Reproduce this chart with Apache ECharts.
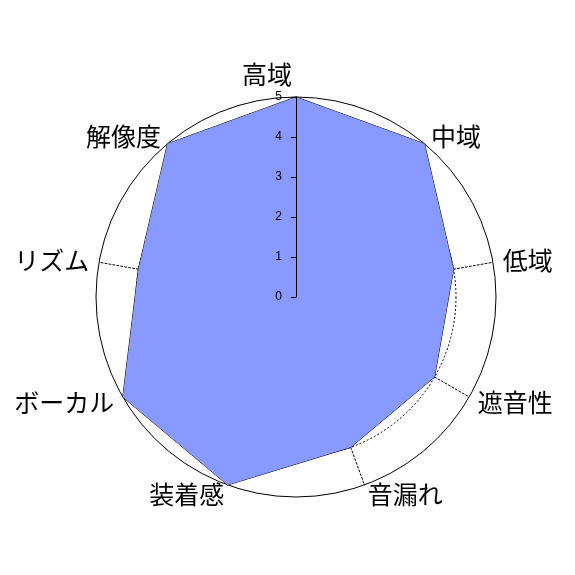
<!DOCTYPE html>
<html>
<head>
<meta charset="utf-8">
<script src="https://cdn.jsdelivr.net/npm/echarts@6/dist/echarts.min.js"></script>
<style>
html,body{margin:0;padding:0;background:#fff;}
#c{width:575px;height:575px;}
</style>
</head>
<body>
<div id="c"></div>
<script>
// categories listed clockwise from the top
var categories = ['高域', '中域', '低域', '遮音性', '音漏れ', '装着感', 'ボーカル', 'リズム', '解像度'];
var values = [5, 5, 4, 4, 4, 5, 5, 4, 5];
var maxValue = 5;

// ECharts radar runs counter-clockwise: keep the first, reverse the rest
function clockwise(arr) { return [arr[0]].concat(arr.slice(1).reverse()); }
var cats = clockwise(categories);
var vals = clockwise(values);

var chart = echarts.init(document.getElementById('c'));
var indicators = cats.map(function (n) { return { name: n, max: maxValue, min: 0 }; });
var nameFont = '"Noto Sans CJK JP", sans-serif';

chart.setOption({
  backgroundColor: '#ffffff',
  animation: false,
  radar: [
    {
      center: [296, 297],
      radius: 200,
      startAngle: 90,
      shape: 'circle',
      splitNumber: 1,
      indicator: indicators,
      axisName: {
        show: true,
        color: '#000',
        fontFamily: nameFont,
        fontSize: 25,
        formatter: function (name) {
          return name === '高域' ? '{top|' + name + '}' : name;
        },
        rich: {
          top: { fontFamily: nameFont, fontSize: 25, color: '#000', padding: [0, 58, 0, 0] }
        }
      },
      nameGap: 10,
      axisLine: { show: false },
      axisTick: { show: false },
      axisLabel: { show: false },
      splitArea: { show: false },
      splitLine: { show: true, lineStyle: { color: '#000', width: 1, type: 'solid' } }
    },
    {
      center: [296, 297],
      radius: 200,
      startAngle: 90,
      shape: 'circle',
      splitNumber: 5,
      indicator: indicators,
      axisName: { show: false },
      axisLine: { show: true, lineStyle: { color: '#000', width: 1, type: [2, 2] } },
      axisTick: { show: false },
      axisLabel: { show: false },
      splitArea: { show: false },
      splitLine: { show: true, lineStyle: { color: ['transparent', '#000', '#000', '#000', '#000', 'transparent'], width: 1, type: [2, 2] } }
    }
  ],
  grid: { left: 296, top: 97, height: 200, width: 20, containLabel: false },
  xAxis: { type: 'value', show: false, min: 0, max: 1 },
  yAxis: {
    type: 'value',
    min: 0,
    max: maxValue,
    interval: 1,
    position: 'left',
    z: 10,
    axisLine: { show: true, lineStyle: { color: '#000', width: 1 } },
    axisTick: { show: true, length: 5, inside: false, lineStyle: { color: '#000', width: 1 } },
    axisLabel: { show: true, margin: 14, color: '#000', fontSize: 12, fontFamily: '"Liberation Sans", Arial, sans-serif' },
    splitLine: { show: false }
  },
  series: [
    {
      type: 'radar',
      radarIndex: 0,
      z: 5,
      symbol: 'none',
      lineStyle: { color: '#000', width: 1 },
      areaStyle: { color: '#8899ff', opacity: 1 },
      data: [{ value: vals }]
    },
    {
      type: 'line',
      xAxisIndex: 0,
      yAxisIndex: 0,
      data: [],
      silent: true
    }
  ]
});
</script>
</body>
</html>
